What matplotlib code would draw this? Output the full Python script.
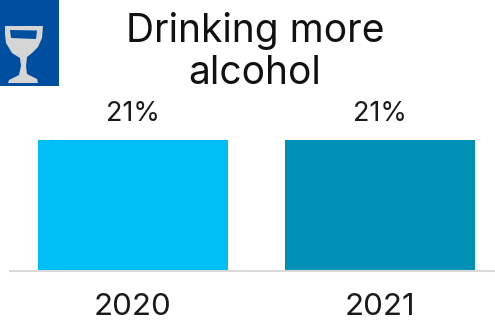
import matplotlib
matplotlib.use('Agg')
import matplotlib.pyplot as plt
from matplotlib.patches import Rectangle, PathPatch
from matplotlib.path import Path

years = ['2020', '2021']
values = [21, 21]
bar_colours = ['#00bff7', '#0090b5']
title = 'Drinking more\nalcohol'

text_colour = '#1a1a1a'
axis_colour = '#d9d9d9'
icon_blue = '#004ea0'
icon_grey = '#d5d5d5'

plt.rcParams['font.family'] = ['Inter', 'DejaVu Sans']

W, H = 495, 321
fig = plt.figure(figsize=(W / 100, H / 100), dpi=100, facecolor='white')

# bars, baseline at y=270 and 21% reaching y=140
ax = fig.add_axes([10 / W, 1 - 270.5 / H, 485 / W, 130.5 / H])
x = [0, 1]
ax.bar(x, values, width=0.77, color=bar_colours)
ax.set_xlim(-0.498, 1.466)
ax.set_ylim(0, 21)
ax.set_yticks([])
ax.set_xticks(x)
ax.set_xticklabels(years, fontsize=22.5, color=text_colour)
ax.tick_params(axis='x', length=0, pad=16.3)
for s in ['top', 'left', 'right']:
    ax.spines[s].set_visible(False)
ax.spines['bottom'].set_color(axis_colour)
ax.spines['bottom'].set_linewidth(1.5)

for i, v in zip(x, values):
    ax.annotate(f'{v}%', (i, v), xytext=(0, 9.5), textcoords='offset points',
                ha='center', va='bottom', fontsize=19.5, color=text_colour,
                annotation_clip=False)

fig.text(255 / W, 1 - 31 / H, title.split('\n')[0], ha='center', va='center',
         fontsize=28, color='#111111')
fig.text(255 / W, 1 - 73 / H, title.split('\n')[1], ha='center', va='center',
         fontsize=28, color='#111111')

# wine glass badge in the corner, drawn in pixel coordinates
icon = fig.add_axes([0, 0, 1, 1], facecolor='none')
icon.set_xlim(0, W)
icon.set_ylim(H, 0)
icon.axis('off')
icon.add_patch(Rectangle((0, 0), 59, 86, color=icon_blue, lw=0))
glass = [(5, 26), (43, 26), (42, 38), (38, 47), (32, 53), (27, 57), (26, 66),
         (27, 74), (37, 79), (38, 83), (8, 83), (9, 80), (19, 75), (21, 66),
         (20, 58), (12, 53), (6, 43), (5, 34), (5, 26)]
# window runs the other way round so it stays open
window = [(10, 30), (11, 38), (36, 39), (37, 30.5), (10, 30)]
verts = glass + window
codes = ([Path.MOVETO] + [Path.LINETO] * (len(glass) - 2) + [Path.CLOSEPOLY] +
         [Path.MOVETO] + [Path.LINETO] * (len(window) - 2) + [Path.CLOSEPOLY])
icon.add_patch(PathPatch(Path(verts, codes), facecolor=icon_grey, lw=0))

fig.savefig('out.png', dpi=100, facecolor='white')
